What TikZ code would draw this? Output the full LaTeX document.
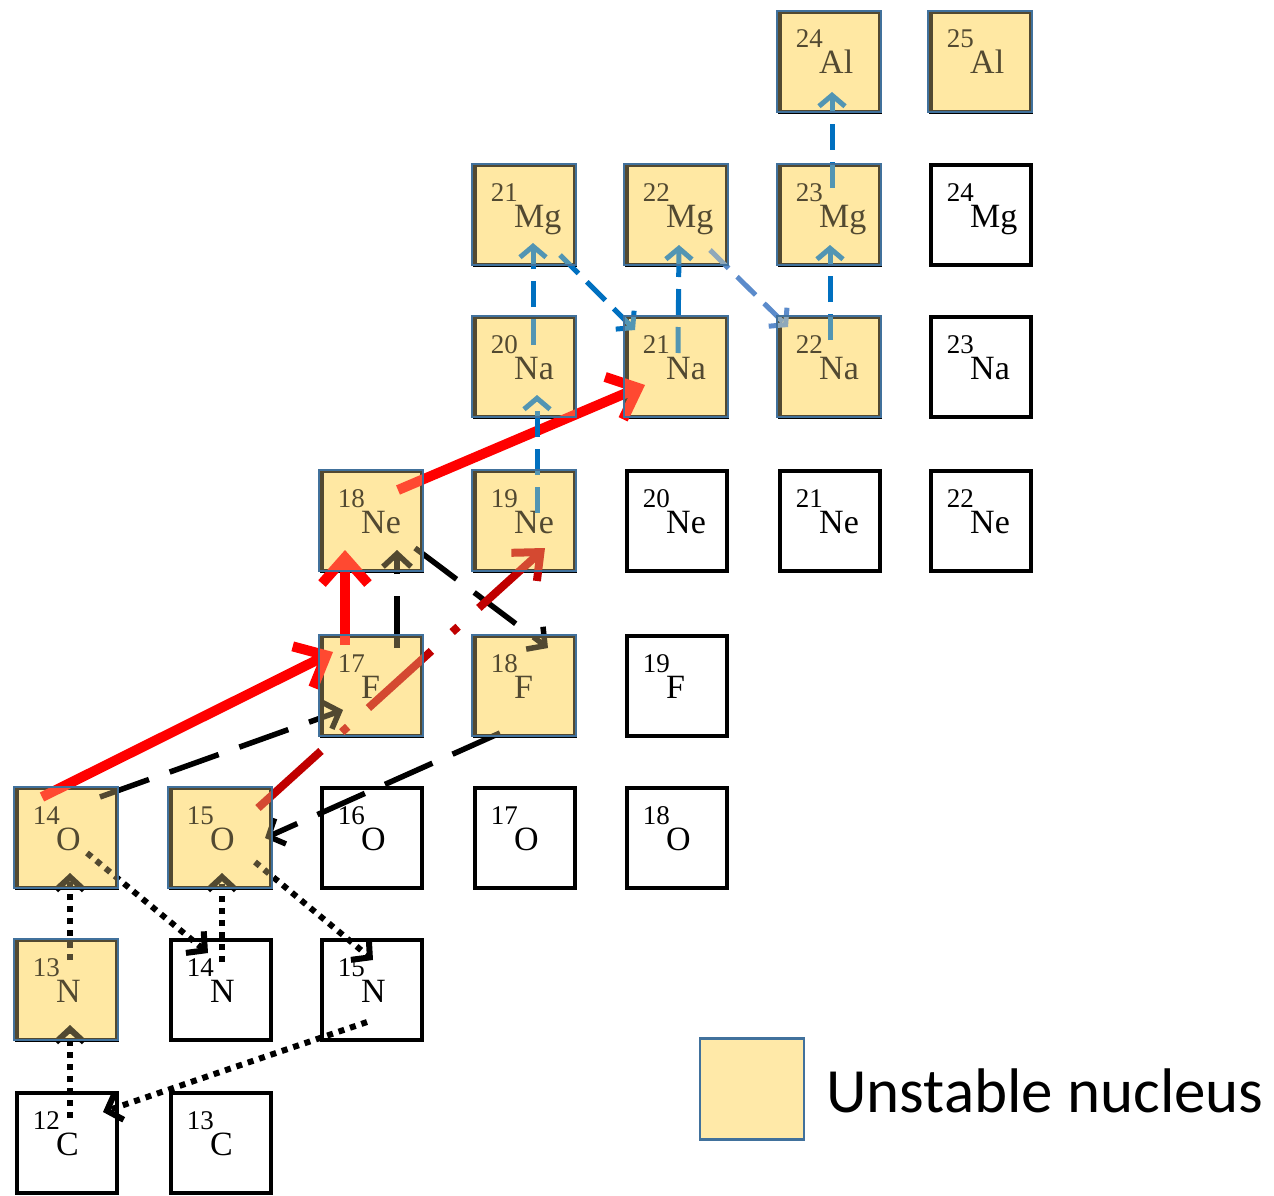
\documentclass[tikz,border=0pt]{standalone}
\usepackage{fontspec}
\newfontfamily\nucfont{Liberation Serif}
\newfontfamily\legendfont{Carlito}
\usetikzlibrary{arrows.meta}
\definecolor{nyel}{HTML}{FFE9A8}
\definecolor{novl}{HTML}{FFE699}
\definecolor{nblue}{HTML}{41719C}
\definecolor{arrblue}{HTML}{0070C0}
\definecolor{arrbluelt}{HTML}{5B8BCB}
\definecolor{darkred}{HTML}{C00000}
\tikzset{
 nbox/.style={draw=black, line width=4pt, minimum size=100pt, inner sep=0pt, fill=white},
 ubox/.style={nbox, fill=nyel},
 elem/.style={font=\nucfont\fontsize{34}{36}\selectfont, inner sep=0pt, anchor=base west},
 mass/.style={font=\nucfont\fontsize{27}{30}\selectfont, inner sep=0pt, anchor=base east},
 ovl/.style={fill=novl, fill opacity=0.32, draw=nblue, draw opacity=1, line width=2.5pt},
 dotarr/.style={line width=6pt, dash pattern=on 6pt off 6pt, -{Straight Barb[length=13pt,width=28pt]}},
 dasharr/.style={line width=5.5pt, dash pattern=on 52pt off 22pt, -{Straight Barb[length=13pt,width=28pt]}},
 redarr/.style={red, line width=10pt, -{Straight Barb[length=26pt,width=46pt]}},
 dredarr/.style={darkred, line width=8pt, dash pattern=on 85pt off 28pt on 8pt off 28pt, -{Straight Barb[length=22pt,width=38pt]}},
 bluearr/.style={arrblue, line width=5pt, dash pattern=on 26pt off 12pt, -{Straight Barb[length=11pt,width=26pt]}},
 bluearrlt/.style={bluearr, arrbluelt},
}
\newcommand\nuc[6]{%
 \node[#1] (#2) at (#3,#4) {};
 \node[mass] (#2m) at ([shift={(-7,-14)}]#2.center) {#5};
 \node[elem] (#2e) at ([shift={(-11,12)}]#2.center) {#6};
}
\newcommand\ovr[1]{\draw[ovl] ([shift={(-53,-51)}]#1.center) rectangle ([shift={(51,50)}]#1.center);}
\begin{document}
\begin{tikzpicture}[x=1pt,y=-1pt]
\useasboundingbox[fill=white] (0,0) rectangle (1274,1196);
% row C
\nuc{nbox}{c12}{67}{1143}{12}{C}
\nuc{nbox}{c13}{221}{1143}{13}{C}
% row N
\nuc{ubox}{n13}{67}{990}{13}{N}
\nuc{nbox}{n14}{221}{990}{14}{N}
\nuc{nbox}{n15}{372}{990}{15}{N}
% row O
\nuc{ubox}{o14}{67}{838}{14}{O}
\nuc{ubox}{o15}{221}{838}{15}{O}
\nuc{nbox}{o16}{372}{838}{16}{O}
\nuc{nbox}{o17}{525}{838}{17}{O}
\nuc{nbox}{o18}{677}{838}{18}{O}
% row F
\nuc{ubox}{f17}{372}{686}{17}{F}
\nuc{ubox}{f18}{525}{686}{18}{F}
\nuc{nbox}{f19}{677}{686}{19}{F}
% row Ne
\nuc{ubox}{ne18}{372}{521}{18}{Ne}
\nuc{ubox}{ne19}{525}{521}{19}{Ne}
\nuc{nbox}{ne20}{677}{521}{20}{Ne}
\nuc{nbox}{ne21}{830}{521}{21}{Ne}
\nuc{nbox}{ne22}{981}{521}{22}{Ne}
% row Na
\nuc{ubox}{na20}{525}{367}{20}{Na}
\nuc{ubox}{na21}{677}{367}{21}{Na}
\nuc{ubox}{na22}{830}{367}{22}{Na}
\nuc{nbox}{na23}{981}{367}{23}{Na}
% row Mg
\nuc{ubox}{mg21}{525}{215}{21}{Mg}
\nuc{ubox}{mg22}{677}{215}{22}{Mg}
\nuc{ubox}{mg23}{830}{215}{23}{Mg}
\nuc{nbox}{mg24}{981}{215}{24}{Mg}
% row Al
\nuc{ubox}{al24}{830}{62}{24}{Al}
\nuc{ubox}{al25}{981}{62}{25}{Al}

% dotted arrows
\draw[dotarr] ([shift={(3,-25)}]c12.center) -- ([shift={(3,35)}]n13.center);
\draw[dotarr] ([shift={(3,-30)}]n13.center) -- ([shift={(3,35)}]o14.center);
\draw[dotarr] ([shift={(20,15)}]o14.center) -- ([shift={(-13,-37)}]n14.center);
\draw[dotarr] ([shift={(1,-28)}]n14.center) -- ([shift={(1,35)}]o15.center);
\draw[dotarr] ([shift={(34,24)}]o15.center) -- ([shift={(1,-30)}]n15.center);
\draw[dotarr] ([shift={(-5,32)}]n15.center) -- ([shift={(36,-31)}]c12.center);
% dashed black arrows
\draw[dasharr] ([shift={(33,-41)}]o14.center) -- ([shift={(-29,24)}]f17.center);
\draw[dasharr] ([shift={(25,-38)}]f17.center) -- ([shift={(25,29)}]ne18.center);
\draw[dasharr] ([shift={(43,27)}]ne18.center) -- ([shift={(23,-38)}]f18.center);
\draw[dasharr] ([shift={(-25,47)}]f18.center) -- ([shift={(44,0)}]o15.center);
% red arrows
\draw[redarr] ([shift={(-25,-41)}]o14.center) -- ([shift={(-39,-34)}]f17.center);
\draw[redarr] ([shift={(-27,-41)}]f17.center) -- ([shift={(-27,29)}]ne18.center);
\draw[redarr] ([shift={(26,-31)}]ne18.center) -- ([shift={(-32,18)}]na21.center);
\draw[dredarr] ([shift={(37,-30)}]o15.center) -- ([shift={(20,27)}]ne19.center);
% blue arrows
\draw[bluearr] ([shift={(12,-8)}]ne19.center) -- ([shift={(12,28)}]na20.center);
\draw[bluearr] ([shift={(8,-22)}]na20.center) -- ([shift={(8,28)}]mg21.center);
\draw[bluearr] ([shift={(35,40)}]mg21.center) -- ([shift={(-42,-37)}]na21.center);
\draw[bluearr] ([shift={(1,-14)}]na21.center) -- ([shift={(2,30)}]mg22.center);
\draw[bluearrlt] ([shift={(33,35)}]mg22.center) -- ([shift={(-42,-40)}]na22.center);
\draw[bluearr] ([shift={(0,-27)}]na22.center) -- ([shift={(0,30)}]mg23.center);
\draw[bluearr] ([shift={(2,-27)}]mg23.center) -- ([shift={(2,30)}]al24.center);

% translucent overlays on unstable nuclei
\ovr{n13}\ovr{o14}\ovr{o15}\ovr{f17}\ovr{f18}\ovr{ne18}\ovr{ne19}
\ovr{na20}\ovr{na21}\ovr{na22}\ovr{mg21}\ovr{mg22}\ovr{mg23}\ovr{al24}\ovr{al25}

% legend
\node[draw=nblue, line width=2.5pt, fill=nyel, minimum width=104pt, minimum height=101pt, inner sep=0pt] (leg) at (752,1089) {};
\node[anchor=base west, inner sep=0pt, font=\legendfont\fontsize{63}{66}\selectfont] (legt) at (826,1112) {Unstable nucleus};
\end{tikzpicture}
\end{document}
